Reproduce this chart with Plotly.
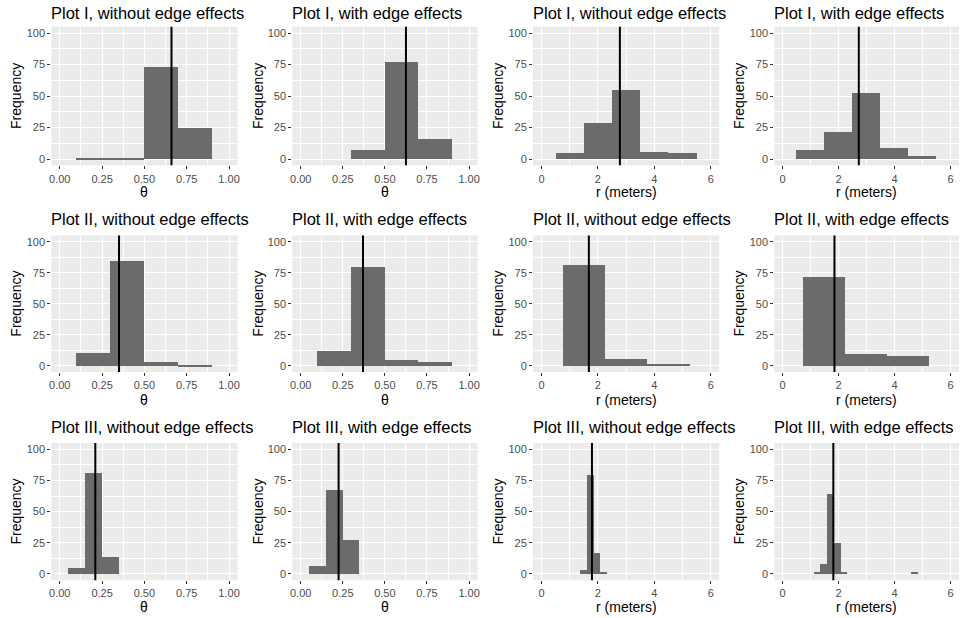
import plotly.graph_objects as go

# ---------------- data ----------------
titles = [
    "Plot I, without edge effects", "Plot I, with edge effects",
    "Plot I, without edge effects", "Plot I, with edge effects",
    "Plot II, without edge effects", "Plot II, with edge effects",
    "Plot II, without edge effects", "Plot II, with edge effects",
    "Plot III, without edge effects", "Plot III, with edge effects",
    "Plot III, without edge effects", "Plot III, with edge effects",
]
x_titles = ["θ", "θ", "r (meters)", "r (meters)"] * 3

# bin left edges, bin width and counts for each panel
p1_left, p1_width, p1_counts = [0.1, 0.3, 0.5, 0.7], 0.2, [1, 1, 73, 25]
p2_left, p2_width, p2_counts = [0.3, 0.5, 0.7], 0.2, [7, 77, 16]
p3_left, p3_width, p3_counts = [0.5, 1.5, 2.5, 3.5, 4.5], 1.0, [5, 29, 55, 6, 5]
p4_left, p4_width, p4_counts = [0.5, 1.5, 2.5, 3.5, 4.5], 1.0, [7, 22, 53, 9, 3]
p5_left, p5_width, p5_counts = [0.1, 0.3, 0.5, 0.7], 0.2, [11, 85, 3, 1]
p6_left, p6_width, p6_counts = [0.1, 0.3, 0.5, 0.7], 0.2, [12, 80, 5, 3]
p7_left, p7_width, p7_counts = [0.75, 2.25, 3.75], 1.5, [82, 6, 2]
p8_left, p8_width, p8_counts = [0.75, 2.25, 3.75], 1.5, [72, 10, 8]
p9_left, p9_width, p9_counts = [0.05, 0.15, 0.25], 0.1, [5, 81, 14]
p10_left, p10_width, p10_counts = [0.05, 0.15, 0.25], 0.1, [6, 67, 27]
p11_left, p11_width, p11_counts = [1.37, 1.61, 1.85, 2.09], 0.24, [3, 79, 17, 1]
p12_left, p12_width, p12_counts = [1.12, 1.36, 1.60, 1.84, 2.08, 4.60], 0.24, [1, 8, 64, 25, 1, 1]

means = [0.66, 0.625, 2.78, 2.72, 0.35, 0.37, 1.68, 1.85, 0.21, 0.225, 1.79, 1.81]

theta_ticks = [0, 0.25, 0.5, 0.75, 1.0]
theta_ticklabels = ["0.00", "0.25", "0.50", "0.75", "1.00"]
r_ticks = [0, 2, 4, 6]
r_ticklabels = ["0", "2", "4", "6"]
y_ticks = [0, 25, 50, 75, 100]
y_ticklabels = ["0", "25", "50", "75", "100"]

lefts = [p1_left, p2_left, p3_left, p4_left, p5_left, p6_left,
         p7_left, p8_left, p9_left, p10_left, p11_left, p12_left]
widths = [p1_width, p2_width, p3_width, p4_width, p5_width, p6_width,
          p7_width, p8_width, p9_width, p10_width, p11_width, p12_width]
counts = [p1_counts, p2_counts, p3_counts, p4_counts, p5_counts, p6_counts,
          p7_counts, p8_counts, p9_counts, p10_counts, p11_counts, p12_counts]

# ---------------- layout geometry (pixels) ----------------
W, H = 961, 618
col_px = [(49.5, 236.5), (291.5, 477.5), (533.2, 720.2), (775.5, 961.0)]
row_px = [(26.7, 165.3), (235.5, 371.9), (443.0, 580.2)]
title_y = [13, 219, 427]
xtitle_y = [192, 400, 607]
ylab_x = [14, 257, 498, 740]

FONT = "Liberation Sans, Arial, sans-serif"
BAR = "#6b6b6b"

fig = go.Figure()
annotations = []
shapes = []
layout_axes = {}

for i in range(12):
    r, c = divmod(i, 4)
    k = i + 1
    xa = "x" if k == 1 else f"x{k}"
    ya = "y" if k == 1 else f"y{k}"
    is_theta = (c < 2)
    centers = [l + widths[i] / 2 for l in lefts[i]]
    fig.add_trace(go.Bar(
        x=centers, y=counts[i], width=[widths[i]] * len(centers),
        marker=dict(color=BAR, line=dict(width=0)),
        xaxis=xa, yaxis=ya, showlegend=False, hoverinfo="skip"))

    x0, x1 = col_px[c]
    y0, y1 = row_px[r]
    if is_theta:
        xr = [-0.05, 1.05]
        tv, tt = theta_ticks, theta_ticklabels
        minor_vals = [0.125, 0.375, 0.625, 0.875]
    else:
        xr = [-0.3, 6.3]
        tv, tt = r_ticks, r_ticklabels
        minor_vals = [1, 3, 5]
    common = dict(showgrid=True, gridcolor="white", gridwidth=1.1,
                  zeroline=False, showline=False, ticks="outside",
                  ticklen=3, tickwidth=1, tickcolor="#333333",
                  tickfont=dict(family=FONT, size=11, color="#4d4d4d"),
                  fixedrange=True)
    xkey = "xaxis" if k == 1 else f"xaxis{k}"
    ykey = "yaxis" if k == 1 else f"yaxis{k}"
    layout_axes[xkey] = dict(
        domain=[x0 / W, min(x1 / W, 1.0)], anchor=ya, range=xr,
        tickmode="array", tickvals=tv, ticktext=tt,
        minor=dict(tickmode="array", tickvals=minor_vals, showgrid=True,
                   gridcolor="white", gridwidth=0.5, ticks=""),
        **common)
    layout_axes[ykey] = dict(
        domain=[1 - y1 / H, 1 - y0 / H], anchor=xa, range=[-5, 105],
        tickmode="array", tickvals=y_ticks, ticktext=y_ticklabels,
        minor=dict(tickmode="array", tickvals=[12.5, 37.5, 62.5, 87.5],
                   showgrid=True, gridcolor="white", gridwidth=0.5, ticks=""),
        **common)

    shapes.append(dict(type="line", xref=xa, yref=f"{ya} domain",
                       x0=means[i], x1=means[i], y0=0, y1=1,
                       line=dict(color="black", width=2)))

    annotations.append(dict(
        text=titles[i], xref="paper", yref="paper", xshift=-2,
        x=x0 / W, y=1 - title_y[r] / H, xanchor="left", yanchor="middle",
        showarrow=False, font=dict(family=FONT, size=16.5, color="black")))
    annotations.append(dict(
        text=x_titles[i], xref="paper", yref="paper",
        x=((x0 + x1) / 2) / W, y=1 - xtitle_y[r] / H,
        xanchor="center", yanchor="middle",
        showarrow=False, font=dict(family=FONT, size=14, color="black")))
    annotations.append(dict(
        text="Frequency", xref="paper", yref="paper", textangle=-90,
        x=ylab_x[c] / W, y=1 - ((y0 + y1) / 2) / H,
        xanchor="center", yanchor="middle",
        showarrow=False, font=dict(family=FONT, size=14, color="black")))

fig.update_layout(
    width=W, height=H, margin=dict(l=0, r=0, t=0, b=0),
    paper_bgcolor="white", plot_bgcolor="#ebebeb",
    bargap=0, showlegend=False,
    annotations=annotations, shapes=shapes,
    **layout_axes)

fig.write_html("out.html")
